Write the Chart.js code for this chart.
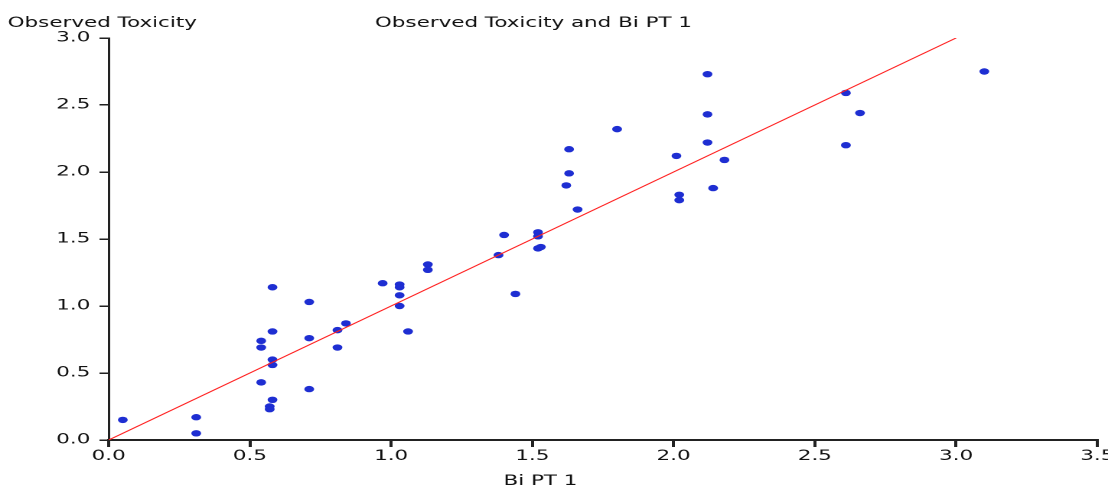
<!DOCTYPE html>
<html>
<head>
<meta charset="utf-8">
<script src="https://cdn.jsdelivr.net/npm/chart.js@4.4.1/dist/chart.umd.min.js"></script>
<style>
  html, body { margin: 0; padding: 0; background: #ffffff; overflow: hidden; }
  #wrap { width: 724px; height: 489px; transform: scaleX(1.5304); transform-origin: 0 0; }
  canvas { display: block; }
</style>
</head>
<body>
<div id="wrap"><canvas id="c" width="724" height="489" style="width:724px;height:489px"></canvas></div>
<script>
// ---- data ----
const chartTitle = "Observed Toxicity and Bi PT 1";
const xAxisTitle = "Bi PT 1";
const yAxisTitle = "Observed Toxicity";

const biPT1 = [0.05, 0.31, 0.31, 0.54, 0.54, 0.54, 0.58, 0.58, 0.58, 0.58, 0.58, 0.57, 0.57,
  0.71, 0.71, 0.71, 0.81, 0.81, 0.84, 0.97, 1.03, 1.03, 1.03, 1.03, 1.06, 1.13, 1.13,
  1.38, 1.40, 1.44, 1.52, 1.53, 1.52, 1.52, 1.62, 1.63, 1.63, 1.66, 1.80, 2.01, 2.02, 2.02,
  2.12, 2.12, 2.12, 2.14, 2.18, 2.61, 2.61, 2.66, 3.10];
const observedToxicity = [0.15, 0.17, 0.05, 0.74, 0.69, 0.43, 1.14, 0.81, 0.60, 0.56, 0.30, 0.25, 0.23,
  1.03, 0.76, 0.38, 0.82, 0.69, 0.87, 1.17, 1.16, 1.14, 1.08, 1.00, 0.81, 1.31, 1.27,
  1.38, 1.53, 1.09, 1.43, 1.44, 1.55, 1.52, 1.90, 1.99, 2.17, 1.72, 2.32, 2.12, 1.83, 1.79,
  2.73, 2.43, 2.22, 1.88, 2.09, 2.59, 2.20, 2.44, 2.75];

const fitX = [0, 3.0];
const fitY = [0, 3.0];

const xTicks = [0, 0.5, 1.0, 1.5, 2.0, 2.5, 3.0, 3.5];
const yTicks = [0, 0.5, 1.0, 1.5, 2.0, 2.5, 3.0];

// ---- build ----
const points = biPT1.map((x, i) => ({ x: x, y: observedToxicity[i] }));
const fitLine = fitX.map((x, i) => ({ x: x, y: fitY[i] }));

const FONT = '"DejaVu Sans", sans-serif';

const bgPlugin = {
  id: 'bg',
  beforeDraw(chart) {
    const ctx = chart.ctx;
    ctx.save();
    ctx.fillStyle = '#ffffff';
    ctx.fillRect(0, 0, chart.width, chart.height);
    ctx.restore();
  }
};

const textPlugin = {
  id: 'texts',
  afterDraw(chart) {
    const ctx = chart.ctx;
    ctx.save();
    ctx.font = '14px ' + FONT;
    ctx.fillStyle = '#111111';
    ctx.textAlign = 'left';
    ctx.textBaseline = 'alphabetic';
    ctx.fillText(yAxisTitle, 5, 27);
    ctx.fillText(chartTitle, 245, 27);
    ctx.fillText(xAxisTitle, 329, 485);
    ctx.restore();
  }
};

new Chart(document.getElementById('c'), {
  type: 'scatter',
  data: {
    datasets: [
      {
        label: 'Observed',
        data: points,
        backgroundColor: '#1e2ed2',
        borderColor: '#1e2ed2',
        pointRadius: 3.2,
        pointHoverRadius: 3.2,
        borderWidth: 0,
        order: 2
      },
      {
        type: 'line',
        label: 'Fit',
        data: fitLine,
        borderColor: '#ff2020',
        borderWidth: 1,
        pointRadius: 0,
        fill: false,
        order: 1
      }
    ]
  },
  plugins: [bgPlugin, textPlugin],
  options: {
    responsive: false,
    animation: false,
    devicePixelRatio: 2,
    layout: { padding: { left: 0, right: 7, top: 38, bottom: 0 } },
    plugins: {
      legend: { display: false },
      tooltip: { enabled: false },
      title: { display: false }
    },
    scales: {
      x: {
        type: 'linear',
        min: 0,
        max: 3.5,
        afterFit(scale) { scale.height = 49; scale.paddingLeft = 0; scale.paddingRight = 0; },
        afterBuildTicks(scale) { scale.ticks = xTicks.map(v => ({ value: v })); },
        border: { display: true, color: '#222222', width: 2 },
        grid: { drawOnChartArea: false, drawTicks: true, tickLength: 7, color: '#222222', lineWidth: 2 },
        ticks: {
          padding: 1,
          color: '#111111',
          font: { family: FONT, size: 14 },
          maxRotation: 0,
          callback: v => Number(v).toFixed(1)
        }
      },
      y: {
        type: 'linear',
        min: 0,
        max: 3.0,
        afterFit(scale) { scale.width = 71; scale.paddingTop = 0; scale.paddingBottom = 0; },
        afterBuildTicks(scale) { scale.ticks = yTicks.map(v => ({ value: v })); },
        border: { display: true, color: '#222222', width: 1.5 },
        grid: { drawOnChartArea: false, drawTicks: true, tickLength: 6, color: '#222222', lineWidth: 1.5 },
        ticks: {
          padding: 6,
          color: '#111111',
          font: { family: FONT, size: 14 },
          callback: v => Number(v).toFixed(1)
        }
      }
    }
  }
});
</script>
</body>
</html>
